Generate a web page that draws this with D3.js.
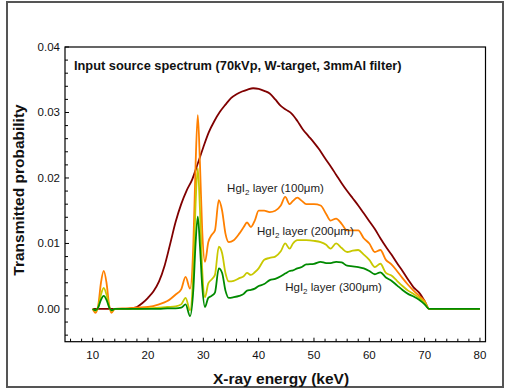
<!DOCTYPE html>
<html>
<head>
<meta charset="utf-8">
<script src="https://cdn.jsdelivr.net/npm/d3@7"></script>
<style>
  body { margin: 0; background: #fff; }
</style>
</head>
<body>
<div id="chart"></div>
<script>
// source spectrum
var sourceEnergy = [10, 14, 16, 17, 18, 19, 20, 21, 22, 23, 24, 25, 26, 27, 28, 29, 30, 31, 32, 33, 34, 35, 36, 37, 38, 39, 40,
  41, 42, 43, 44, 45, 46, 47, 48, 49, 50, 51, 52, 53, 54, 55, 56, 57, 58, 59, 60, 61, 62, 63, 64, 65, 66, 67, 68, 69, 70, 70.8, 75, 80];
var sourceProb = [0, 0, 0, 0.0001, 0.0003, 0.0009, 0.0017, 0.0027, 0.0042, 0.0066, 0.0099, 0.0133, 0.0160, 0.0181, 0.0198, 0.0222, 0.0247,
  0.0270, 0.0287, 0.0301, 0.0312, 0.0322, 0.0328, 0.0332, 0.0335, 0.0337, 0.0336, 0.0333, 0.0329, 0.0320, 0.0310, 0.0304, 0.0298,
  0.0287, 0.0274, 0.0264, 0.0254, 0.0243, 0.0230, 0.0218, 0.0205, 0.0192, 0.0180, 0.0169, 0.0158, 0.0146, 0.0134, 0.0122, 0.0108,
  0.0095, 0.0083, 0.0070, 0.0058, 0.0045, 0.0033, 0.0025, 0.0012, 0, 0, 0];

// transmitted through HgI2 layers
var layerEnergy = [10, 10.5, 11, 11.5, 12, 12.5, 13, 13.4, 14, 16, 18, 20, 22, 23.5, 25, 26, 26.8, 27.6, 28.2, 28.6, 29, 29.4, 29.8,
  30.3, 30.9, 31.5, 32.1, 32.8, 33.4, 34, 34.6, 35.5, 36.5, 37.3, 37.9, 38.6, 39.3, 40, 41, 42, 43, 44, 44.8, 45.6, 46.2, 47, 47.8,
  48.6, 50, 51.2, 52.2, 53, 54, 55, 56, 57, 58, 59, 60, 61, 62, 63, 64, 65, 66, 67, 68, 69, 70, 70.8, 75, 80];
var prob100 = [0, -0.0006, 0.0005, 0.004, 0.0058, 0.004, 0.0005, -0.0006, 0, 0.0001, 0.0002, 0.0003, 0.0007, 0.0012, 0.0022, 0.0030,
  0.0049, 0.0031, 0.010, 0.022, 0.0296, 0.022, 0.012, 0.0072, 0.0102, 0.0113, 0.0120, 0.0166, 0.0150, 0.0115, 0.0102, 0.0105, 0.0115,
  0.0125, 0.0132, 0.0125, 0.0135, 0.0150, 0.0150, 0.0148, 0.0150, 0.0158, 0.0171, 0.0160, 0.0165, 0.0170, 0.0165, 0.0160, 0.0160,
  0.0158, 0.0145, 0.0135, 0.0138, 0.0130, 0.0120, 0.0120, 0.0120, 0.0108, 0.0100, 0.0087, 0.0090, 0.0075, 0.0068, 0.0058, 0.0047,
  0.0037, 0.0028, 0.0020, 0.0012, 0, 0, 0];
var prob200 = [0, -0.0003, 0.0003, 0.0022, 0.0032, 0.0022, 0.0003, -0.0003, 0, 0, 0, 0.0001, 0.0002, 0.0003, 0.0004, 0.0007,
  0.0017, -0.0002, 0.006, 0.016, 0.0215, 0.015, 0.006, 0.0018, 0.0039, 0.0045, 0.0052, 0.0095, 0.0085, 0.0055, 0.0042, 0.0043, 0.0047,
  0.0050, 0.0055, 0.0052, 0.0056, 0.0062, 0.0075, 0.0078, 0.0080, 0.0088, 0.0100, 0.0092, 0.0100, 0.0105, 0.0105, 0.0105, 0.0104,
  0.0102, 0.0098, 0.0092, 0.0100, 0.0093, 0.0087, 0.0089, 0.0090, 0.0083, 0.0075, 0.0064, 0.0069, 0.0055, 0.0051, 0.0043, 0.0035,
  0.0028, 0.0023, 0.0017, 0.0010, 0, 0, 0];
var prob300 = [0, -0.0002, 0.0002, 0.0014, 0.0020, 0.0014, 0.0002, -0.0002, 0, 0, 0, 0, 0, 0.0001, 0.0001, 0.0002,
  0.0007, -0.0011, 0.003, 0.010, 0.0141, 0.0095, 0.0035, 0.0003, 0.0017, 0.0020, 0.0025, 0.0062, 0.0055, 0.0028, 0.0017, 0.0018, 0.0020,
  0.0023, 0.0028, 0.0029, 0.0031, 0.0035, 0.0038, 0.0044, 0.0046, 0.0050, 0.0054, 0.0058, 0.0059, 0.0062, 0.0064, 0.0068, 0.0069,
  0.0072, 0.0070, 0.0070, 0.0072, 0.0071, 0.0066, 0.0065, 0.0064, 0.0062, 0.0058, 0.0053, 0.0056, 0.0048, 0.0043, 0.0036, 0.0029,
  0.0023, 0.0019, 0.0014, 0.0007, 0, 0, 0];

var layerNames = ["100", "200", "300"];
var layerColors = ["#ff8000", "#c8c800", "#008a00"];
var labelPos = [[34.3, 0.0178], [39.7, 0.01125], [44.8, 0.0028]];

var yTicks = [0, 0.01, 0.02, 0.03, 0.04];
var xTicks = [10, 20, 30, 40, 50, 60, 70, 80];

var width = 505, height = 389;
var svg = d3.select("#chart").append("svg")
    .attr("width", width)
    .attr("height", height)
    .style("font-family", "'Liberation Sans', Arial, sans-serif");

// outer frame
svg.append("rect")
    .attr("x", 7).attr("y", 2)
    .attr("width", 496).attr("height", 385)
    .style("fill", "none")
    .style("stroke", "#555")
    .style("stroke-width", 2);

var x = d3.scaleLinear().domain([5, 81]).range([65, 485.5]);
var y = d3.scaleLinear().domain([-0.005, 0.04]).range([341.7, 47]);

// minor ticks, pointing inward
var g = svg.append("g");
g.selectAll(".xminor").data(d3.range(6, 81, 2)).enter().append("line")
    .attr("x1", function(d) { return x(d); }).attr("x2", function(d) { return x(d); })
    .attr("y1", y(-0.005)).attr("y2", function(d) { return y(-0.005) - (d % 10 == 0 ? 4 : 3); })
    .style("stroke", "#000");
g.selectAll(".yminor").data(d3.range(-0.004, 0.0401, 0.002)).enter().append("line")
    .attr("y1", function(d) { return y(d); }).attr("y2", function(d) { return y(d); })
    .attr("x1", x(5)).attr("x2", function(d) { return x(5) + (Math.abs(d * 100 - Math.round(d * 100)) < 1e-6 ? 4 : 3); })
    .style("stroke", "#000");

// tick labels
svg.selectAll(".ylab").data(yTicks).enter().append("text")
    .attr("x", 60).attr("y", function(d) { return y(d) + 4; })
    .attr("text-anchor", "end")
    .style("font-size", "11.5px").style("fill", "#111")
    .text(function(d) { return d3.format(".2f")(d); });
svg.selectAll(".xlab").data(xTicks).enter().append("text")
    .attr("x", function(d) { return x(d); }).attr("y", 359)
    .attr("text-anchor", "middle")
    .style("font-size", "11.5px").style("fill", "#111")
    .text(function(d) { return d; });

// curves
var line = d3.line()
    .x(function(d) { return x(d[0]); })
    .y(function(d) { return y(d[1]); })
    .curve(d3.curveMonotoneX);

svg.append("path")
    .datum(d3.zip(sourceEnergy, sourceProb))
    .attr("d", line)
    .style("fill", "none").style("stroke", "#800000").style("stroke-width", 1.8);

[prob100, prob200, prob300].forEach(function(p, i) {
    svg.append("path")
        .datum(d3.zip(layerEnergy, p))
        .attr("d", line)
        .style("fill", "none").style("stroke", layerColors[i]).style("stroke-width", 1.8);
});

// plot frame
svg.append("rect")
    .attr("x", x(5)).attr("y", y(0.04))
    .attr("width", x(81) - x(5)).attr("height", y(-0.005) - y(0.04))
    .style("fill", "none").style("stroke", "#000").style("stroke-width", 1.2);

// layer labels
layerNames.forEach(function(n, i) {
    var t = svg.append("text")
        .attr("x", x(labelPos[i][0])).attr("y", y(labelPos[i][1]))
        .style("font-size", "11.5px").style("fill", "#222");
    t.append("tspan").text("HgI");
    t.append("tspan").attr("dy", 3).style("font-size", "8px").text("2");
    t.append("tspan").attr("dy", -3).text(" layer (" + n + "\u03bcm)");
});

svg.append("text")
    .attr("x", 74).attr("y", 70)
    .style("font-size", "12.8px").style("font-weight", "bold").style("fill", "#111")
    .text("Input source spectrum (70kVp, W-target, 3mmAl filter)");

svg.append("text")
    .attr("x", 281).attr("y", 384)
    .attr("text-anchor", "middle")
    .style("font-size", "15.5px").style("font-weight", "bold").style("fill", "#111")
    .text("X-ray energy (keV)");

svg.append("text")
    .attr("transform", "translate(24," + 190 + ") rotate(-90)")
    .attr("text-anchor", "middle")
    .style("font-size", "15.5px").style("font-weight", "bold").style("fill", "#111")
    .text("Transmitted probability");
</script>
</body>
</html>
